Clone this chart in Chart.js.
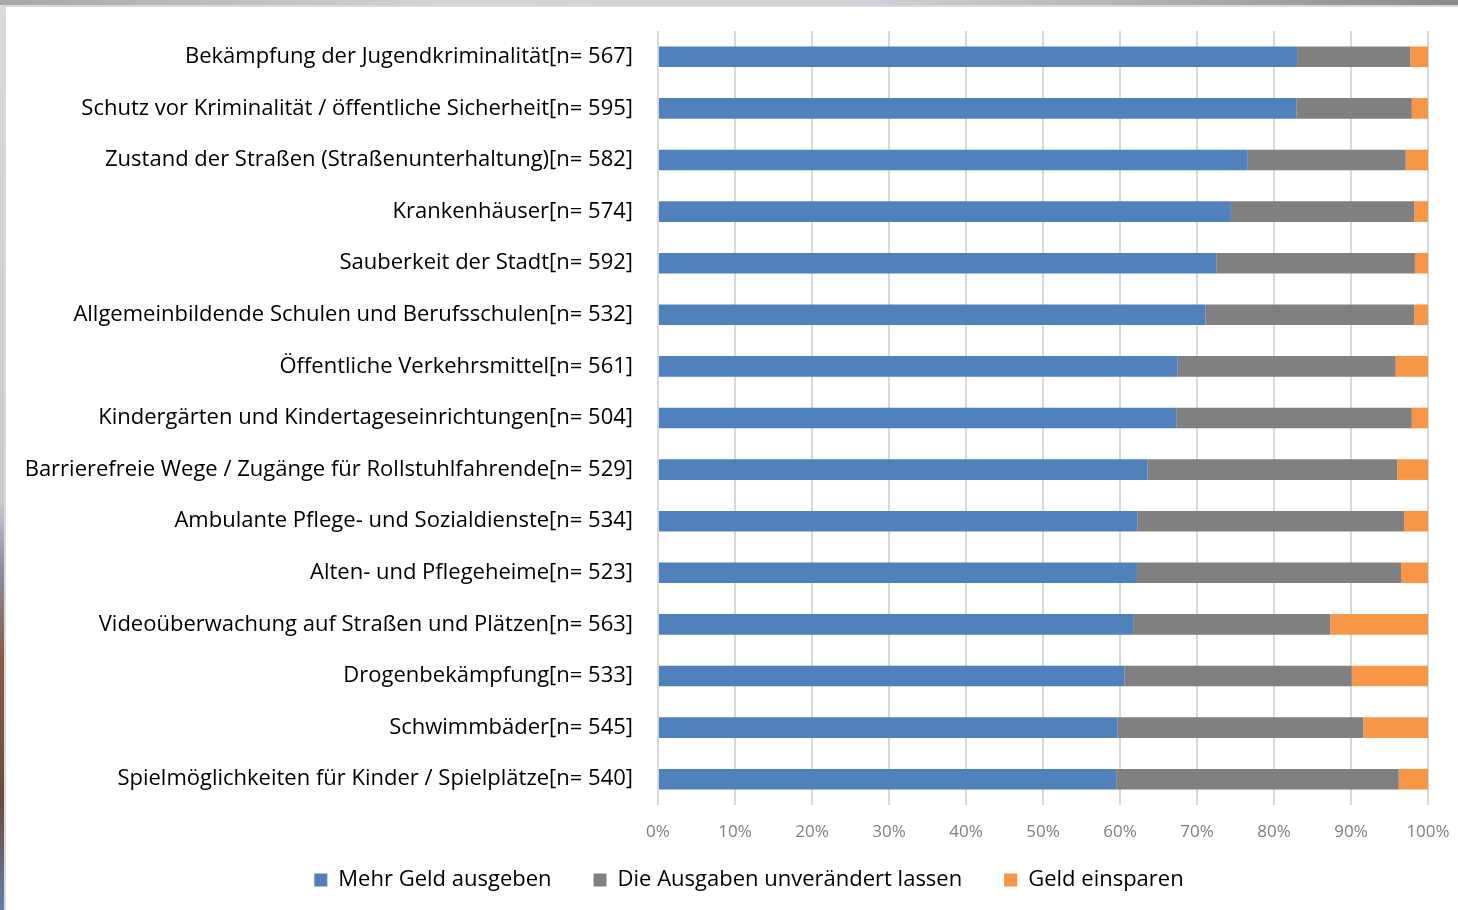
<!DOCTYPE html>
<html>
<head>
<meta charset="utf-8">
<script src="https://cdn.jsdelivr.net/npm/chart.js@4"></script>
<style>
  html, body { margin:0; padding:0; }
  body { width:1458px; height:910px; overflow:hidden; position:relative;
         background:linear-gradient(90deg,#a9a6a8 0%,#d6d3d3 30%,#cfd2d8 60%,#8d8a86 100%); }
  .edge { position:absolute; left:0; top:5px; width:5px; height:905px;
          background:linear-gradient(180deg,#d9dadd 0%,#c8c9cd 55%,#8a8fa4 62%,#8b5a45 72%,#6d4a3c 88%,#5f7fae 100%); }
  .panel { position:absolute; left:4px; top:5px; width:1460px; height:910px;
           background:#fff; border-left:2px solid #d9d9d9; border-top:2px solid #d9d9d9; }
  #wrap { position:absolute; left:0; top:0; width:1458px; height:910px; }
</style>
</head>
<body>
<div class="edge"></div>
<div class="panel"></div>
<div id="wrap"><canvas id="c"></canvas></div>
<script>
// ===== 資料 =====
const categories = [
  'Bekämpfung der Jugendkriminalität[n= 567]',
  'Schutz vor Kriminalität / öffentliche Sicherheit[n= 595]',
  'Zustand der Straßen (Straßenunterhaltung)[n= 582]',
  'Krankenhäuser[n= 574]',
  'Sauberkeit der Stadt[n= 592]',
  'Allgemeinbildende Schulen und Berufsschulen[n= 532]',
  'Öffentliche Verkehrsmittel[n= 561]',
  'Kindergärten und Kindertageseinrichtungen[n= 504]',
  'Barrierefreie Wege / Zugänge für Rollstuhlfahrende[n= 529]',
  'Ambulante Pflege- und Sozialdienste[n= 534]',
  'Alten- und Pflegeheime[n= 523]',
  'Videoüberwachung auf Straßen und Plätzen[n= 563]',
  'Drogenbekämpfung[n= 533]',
  'Schwimmbäder[n= 545]',
  'Spielmöglichkeiten für Kinder / Spielplätze[n= 540]'
];
const mehrGeld     = [83.0, 82.9, 76.6, 74.4, 72.5, 71.1, 67.5, 67.3, 63.6, 62.3, 62.2, 61.7, 60.6, 59.7, 59.5];
const unveraendert = [14.7, 15.0, 20.5, 23.8, 25.8, 27.1, 28.3, 30.6, 32.4, 34.6, 34.3, 25.6, 29.5, 31.9, 36.7];
const einsparen    = [2.3, 2.1, 2.9, 1.8, 1.7, 1.8, 4.2, 2.1, 4.0, 3.1, 3.5, 12.7, 9.9, 8.4, 3.8];
const xTicks = [0, 10, 20, 30, 40, 50, 60, 70, 80, 90, 100];

const FONT = '"Open Sans", "Noto Sans", sans-serif';
const LABEL_SIZE = 22;
const TICK_SIZE = 17;
const TICK_PAD = 17;
const X_AXIS_H = 42;
const LEGEND_GAP = 42;
const PLOT_BOTTOM = 805;
const LEGEND_Y = 880;

// Legende: Höhe fixieren, danach an Excel-Position schieben
const legendShift = {
  id: 'legendShift',
  beforeLayout(chart){
    const l = chart.legend;
    if(!l || l._fixed) return;
    const fit = l.fit;
    l.fit = function(){
      fit.call(this);
      this.height = 910 - PLOT_BOTTOM - X_AXIS_H;
    };
    l._fixed = true;
  },
  afterLayout(chart){
    const l = chart.legend;
    if(!l) return;
    l.top = LEGEND_Y - LABEL_SIZE / 2 - LEGEND_GAP;
    l.bottom = 910;
    l.height = l.bottom - l.top;
    l.left += 30; l.right += 30;
  }
};

const ctx = document.getElementById('c').getContext('2d');
new Chart(ctx, {
  type: 'bar',
  data: {
    labels: categories,
    datasets: [
      { label: 'Mehr Geld ausgeben', data: mehrGeld, backgroundColor: '#4f81bd' },
      { label: 'Die Ausgaben unverändert lassen', data: unveraendert, backgroundColor: '#808080' },
      { label: 'Geld einsparen', data: einsparen, backgroundColor: '#f79646' }
    ]
  },
  plugins: [legendShift],
  options: {
    indexAxis: 'y',
    responsive: true,
    maintainAspectRatio: false,
    animation: false,
    datasets: { bar: { categoryPercentage: 1, barPercentage: 0.4, borderWidth: 0 } },
    layout: { padding: { top: 31, left: 10, right: 30, bottom: 0 } },
    scales: {
      x: {
        stacked: true, min: 0, max: 100,
        afterBuildTicks: s => { s.ticks = xTicks.map(v => ({ value: v })); },
        afterFit: s => { s.height = X_AXIS_H; s.paddingLeft = 0; s.paddingRight = 0; },
        grid: { color: '#d9d9d9', lineWidth: 2, drawTicks: false },
        border: { display: false },
        ticks: { padding: TICK_PAD, color: '#7f7f7f', font: { family: FONT, size: TICK_SIZE },
                 callback: v => v + '%', maxRotation: 0, autoSkip: false }
      },
      y: {
        stacked: true,
        afterFit: s => { s.width = 648; s.paddingTop = 0; s.paddingBottom = 0; },
        grid: { display: false, drawTicks: false },
        border: { display: false },
        ticks: { padding: 25, color: '#000', font: { family: FONT, size: LABEL_SIZE }, autoSkip: false }
      }
    },
    plugins: {
      legend: {
        position: 'bottom',
        labels: { boxWidth: 13, boxHeight: 13, padding: LEGEND_GAP, color: '#000',
                  font: { family: FONT, size: LABEL_SIZE } }
      },
      tooltip: { enabled: false }
    }
  }
});
</script>
</body>
</html>
